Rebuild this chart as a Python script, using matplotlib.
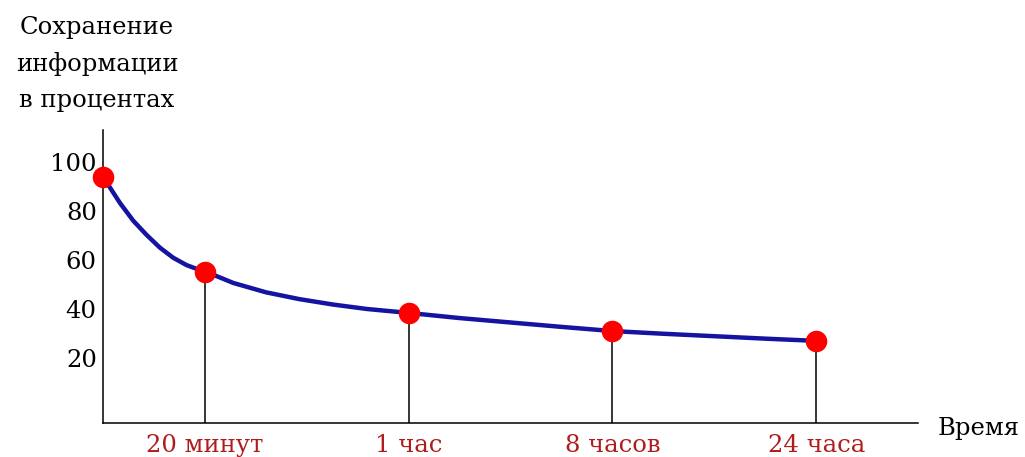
import numpy as np
import matplotlib
matplotlib.use("Agg")
import matplotlib.pyplot as plt

# точки замеров (позиция по оси x, % сохранения)
time_pos = [0, 1, 3, 5, 7]
retention = [94, 55, 38.4, 31, 27]
time_labels = ["20 минут", "1 час", "8 часов", "24 часа"]

# промежуточные точки кривой
curve_x = [0, 0.069, 0.167, 0.297, 0.428, 0.559, 0.689, 0.82, 1,
           1.08, 1.28, 1.6, 1.93, 2.26, 2.59, 3,
           3.5, 4, 4.5, 5, 5.5, 6, 6.5, 7]
curve_y = [94, 89.5, 83.2, 76.0, 70.2, 65.0, 60.9, 57.9, 55.1,
           54.0, 50.6, 46.8, 44.0, 41.8, 40.0, 38.4,
           36.3, 34.5, 32.7, 31, 29.9, 28.9, 27.9, 27]

y_ticks = [20, 40, 60, 80, 100]

plt.rcParams['font.family'] = ['DejaVu Serif']

fig = plt.figure(figsize=(10.25, 4.57), dpi=100)
ax = fig.add_axes([103/1025, 1-423/457, 815/1025, 293/457])

ax.plot(curve_x, curve_y, color='#1414a0', lw=3.2, zorder=2,
        solid_capstyle='round', solid_joinstyle='round')
ax.vlines(time_pos[1:], -6.5, retention[1:], color='black', lw=1.1, zorder=1)
ax.plot(time_pos, retention, 'o', color='#ff0000', ms=14.5, zorder=3, clip_on=False)

ax.set_xlim(0, 8)
ax.set_ylim(-6.5, 113)
ax.spines['top'].set_visible(False)
ax.spines['right'].set_visible(False)
for s in ['left', 'bottom']:
    ax.spines[s].set_linewidth(1.1)

ax.set_yticks(y_ticks)
ax.set_yticklabels([str(v) for v in y_ticks], fontsize=17.5)
ax.tick_params(axis='y', length=0, pad=4.5)
ax.set_xticks(time_pos[1:])
ax.set_xticklabels(time_labels, fontsize=17.5, color='#b01c1c')
ax.tick_params(axis='x', length=0, pad=8)

fig.text(97/1025, 1-64/457, "Сохранение\nинформации\nв процентах",
         ha='center', va='center', fontsize=17.5, linespacing=1.68)
fig.text(938/1025, 1-428/457, "Время", ha='left', va='center', fontsize=17.5)

fig.savefig("out.png", dpi=100)
